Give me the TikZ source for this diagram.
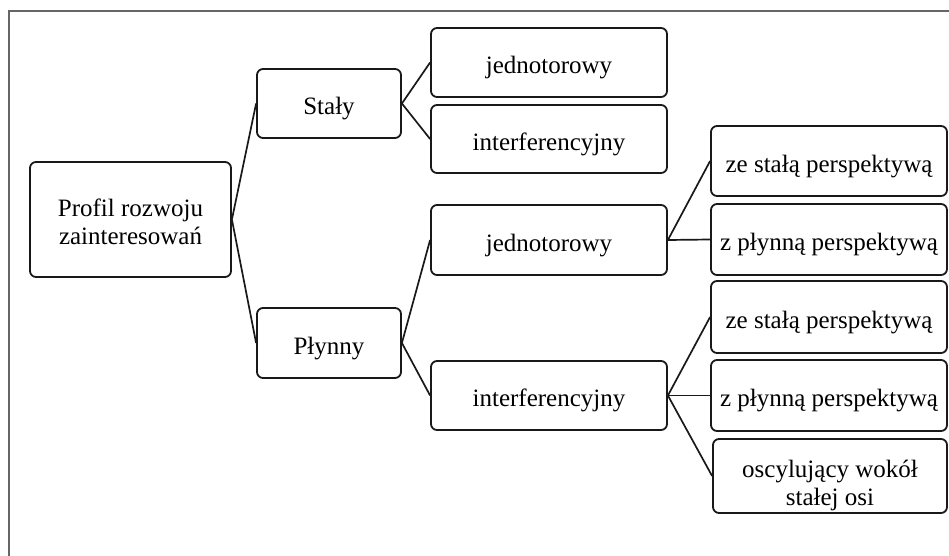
\documentclass[tikz,border=0pt]{standalone}
\usepackage{fontspec}
\setmainfont{Liberation Serif}
\begin{document}
\begin{tikzpicture}[x=1pt,y=-1pt,
  boxbase/.style={draw=black!90,line width=1.8pt,rounded corners=6pt,align=center,
    inner sep=0pt,font=\fontsize{25}{28}\selectfont},
  box/.style={boxbase,text height=22pt,text depth=0pt},
  link/.style={draw=black!90,line width=1.7pt}]
\useasboundingbox (0,0) rectangle (949,556);
\draw[gray!80!black,line width=1.8pt] (9,556) -- (9,11) -- (949,11);
\node[boxbase,minimum width=201pt,minimum height=115pt] (root) at (130.5,219.5) {\rule{0pt}{22pt}Profil rozwoju\\zainteresowań};
\node[box,minimum width=144pt,minimum height=69pt] (staly) at (329,103.5) {Stały};
\node[box,minimum width=144pt,minimum height=70pt] (plynny) at (329,343) {Płynny};
\node[box,minimum width=236pt,minimum height=69pt] (j1) at (549,62.5) {jednotorowy};
\node[box,minimum width=236pt,minimum height=68pt] (i1) at (549,139) {interferencyjny};
\node[box,minimum width=236pt,minimum height=70pt] (j2) at (549,240) {jednotorowy};
\node[box,minimum width=236pt,minimum height=69pt] (i2) at (549,395.5) {interferencyjny};
\node[box,minimum width=236pt,minimum height=70pt] (s1) at (829,161) {ze stałą perspektywą};
\node[box,minimum width=236pt,minimum height=71pt] (p1) at (829,239.5) {z płynną perspektywą};
\node[box,minimum width=236pt,minimum height=72pt] (s2) at (829,317) {ze stałą perspektywą};
\node[box,minimum width=236pt,minimum height=71pt] (p2) at (829,395.5) {z płynną perspektywą};
\node[boxbase,minimum width=234pt,minimum height=74pt] (osc) at (830,476) {\rule{0pt}{37pt}oscylujący wokół\\stałej osi};
\draw[link] (root.east) -- (staly.west);
\draw[link] (root.east) -- (plynny.west);
\draw[link] (staly.east) -- (j1.west);
\draw[link] (staly.east) -- (i1.west);
\draw[link] (plynny.east) -- (j2.west);
\draw[link] (plynny.east) -- (i2.west);
\draw[link] (j2.east) -- (s1.west);
\draw[link] (j2.east) -- (p1.west);
\draw[link] (i2.east) -- (s2.west);
\draw[link] (i2.east) -- (p2.west);
\draw[link] (i2.east) -- (osc.west);
\end{tikzpicture}
\end{document}
